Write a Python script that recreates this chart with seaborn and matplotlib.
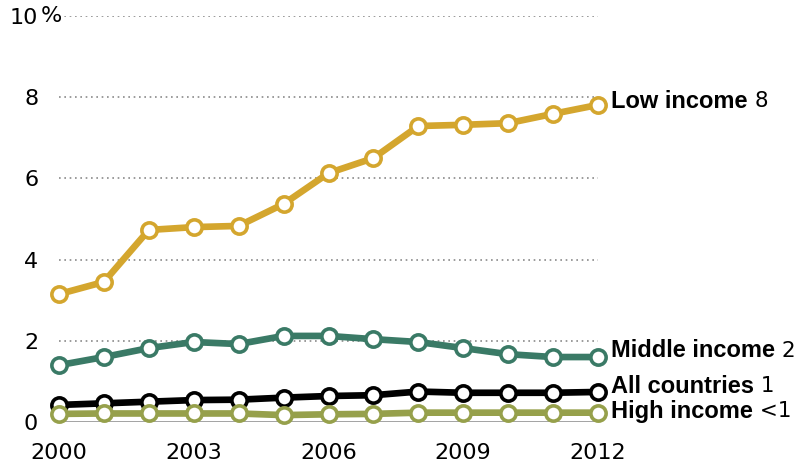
import matplotlib
matplotlib.use("Agg")
import matplotlib.pyplot as plt
import seaborn as sns

# -----------------------------
# DATA
# -----------------------------
years = list(range(2000, 2013))
low_income = [3.15, 3.45, 4.73, 4.80, 4.83, 5.37, 6.13, 6.50, 7.29, 7.32, 7.36, 7.59, 7.81]
middle_income = [1.40, 1.60, 1.82, 1.97, 1.92, 2.12, 2.12, 2.04, 1.97, 1.82, 1.67, 1.60, 1.60]
all_countries = [0.42, 0.46, 0.50, 0.54, 0.55, 0.60, 0.64, 0.66, 0.75, 0.72, 0.72, 0.72, 0.74]
high_income = [0.20, 0.21, 0.21, 0.21, 0.21, 0.17, 0.19, 0.20, 0.23, 0.23, 0.23, 0.23, 0.23]

series_names = ["Low income", "Middle income", "All countries", "High income"]
end_labels = ["8", "2", "1", "<1"]
colors = ["#D4A62E", "#3A7A66", "#000000", "#96A04B"]

y_ticks = [0, 2, 4, 6, 8, 10]
x_ticks = [2000, 2003, 2006, 2009, 2012]

# -----------------------------
# SETUP
# -----------------------------
sns.set_theme(style="white")
plt.rcParams["font.family"] = ["DejaVu Sans"]
plt.rcParams["text.color"] = "black"

fig = plt.figure(figsize=(7.97, 4.65), dpi=100)
ax = fig.add_axes([59 / 797, 43 / 465, 539 / 797, 406 / 465])

# grid lines + zero baseline
for yv in y_ticks[1:]:
    ax.axhline(yv, color="#8a8a8a", linestyle=(0, (1, 2.2)), linewidth=1.2, zorder=1)
ax.axhline(0, color="#9a9a9a", linewidth=2, zorder=1)

# -----------------------------
# LINES
# -----------------------------
all_series = [low_income, middle_income, all_countries, high_income]
label_y = [7.9, 1.75, 0.88, 0.27]

for vals, name, col, end, ly in zip(all_series, series_names, colors, end_labels, label_y):
    sns.lineplot(x=years, y=vals, ax=ax, color=col, linewidth=4.8,
                 marker="o", markersize=11, markerfacecolor="white",
                 markeredgecolor=col, markeredgewidth=2.6, clip_on=False, zorder=3)
    t = ax.text(2012.3, ly, name, fontsize=17, fontweight="bold", va="center", ha="left",
                color="black",
                family=["Liberation Sans Narrow", "Liberation Sans", "DejaVu Sans"])
    ax.annotate(" " + end, xy=(1, 0.5), xycoords=t, va="center", ha="left",
                fontsize=15.5, color="black")

# -----------------------------
# AXES
# -----------------------------
ax.set_xlim(2000, 2012)
ax.set_ylim(0, 10)
ax.set_xticks(x_ticks)
ax.set_xticklabels([str(x) for x in x_ticks], fontsize=16)
ax.set_yticks(y_ticks)
ax.set_yticklabels([str(y) for y in y_ticks], fontsize=16)
ax.tick_params(axis="both", length=0, colors="black")
ax.tick_params(axis="y", pad=15)
ax.tick_params(axis="x", pad=15)
ax.annotate("%", xy=(0, 10), xycoords=ax.get_yaxis_transform(), xytext=(2.5, 0),
            textcoords="offset points", fontsize=16, va="center", ha="right", color="black")
for s in ax.spines.values():
    s.set_visible(False)
ax.set_xlabel("")
ax.set_ylabel("")

plt.savefig("out.png", dpi=100)
plt.close()
